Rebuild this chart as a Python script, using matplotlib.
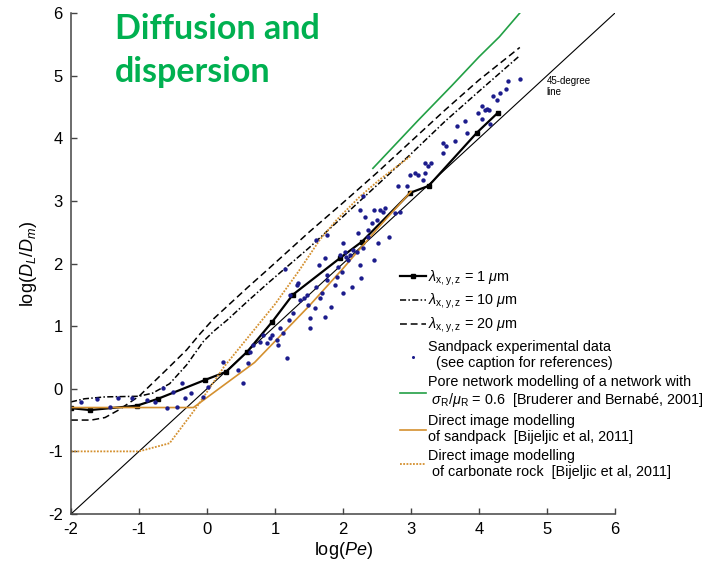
import matplotlib
matplotlib.use("Agg")
import matplotlib.pyplot as plt

# simulation curves, log(Pe) vs log(DL/Dm)
lam1_x = [-2.0, -1.72, -1.03, -0.72, -0.03, 0.28, 0.59, 0.96, 1.26, 1.96, 2.28, 2.99, 3.26, 3.97, 4.28]
lam1_y = [-0.31, -0.34, -0.27, -0.16, 0.14, 0.27, 0.59, 1.07, 1.50, 2.09, 2.35, 3.13, 3.24, 4.09, 4.41]

lam10_x = [-2.0, -1.8, -1.5, -1.0, -0.8, -0.55, -0.3, -0.05, 0.1, 0.3, 0.6, 0.9, 1.5, 2.0, 2.5, 3.0, 3.5, 4.0, 4.6]
lam10_y = [-0.21, -0.16, -0.13, -0.12, -0.07, 0.08, 0.38, 0.76, 0.92, 1.10, 1.40, 1.69, 2.25, 2.75, 3.25, 3.75, 4.27, 4.75, 5.32]

lam20_x = [-2.0, -1.7, -1.5, -1.3, -1.0, -0.6, -0.3, -0.1, 0.1, 0.3, 0.6, 0.9, 1.5, 2.0, 2.5, 3.0, 3.5, 4.0, 4.6]
lam20_y = [-0.50, -0.50, -0.46, -0.34, -0.12, 0.30, 0.62, 0.88, 1.12, 1.32, 1.62, 1.91, 2.50, 2.97, 3.45, 3.95, 4.45, 4.93, 5.45]

pnm_x = [2.44, 3.1, 3.6, 4.0, 4.3, 4.6]
pnm_y = [3.52, 4.28, 4.84, 5.30, 5.62, 6.0]

sand_x = [-2.0, -0.2, 0.7, 1.1, 1.5, 2.0, 2.5, 3.0]
sand_y = [-0.30, -0.30, 0.42, 0.87, 1.32, 1.92, 2.55, 3.15]

carb_x = [-2.0, -1.0, -0.55, -0.15, 0.25, 0.55, 1.0, 1.35, 1.66, 1.91, 2.25, 2.54, 3.0]
carb_y = [-1.0, -1.0, -0.87, -0.29, 0.35, 0.75, 1.35, 1.88, 2.38, 2.70, 3.07, 3.34, 3.72]

# sandpack experimental data
exp_x = [-1.85, -1.62, -1.43, -1.31, -1.10, -0.88, -0.76, -0.64, -0.59, -0.50, -0.44, -0.37,
         -0.32, -0.24, -0.06, 0.01, 0.24, 0.46, 0.53, 0.60, 0.68, 0.82, 0.88, 1.03, 1.04, 1.12,
         1.18, 0.63, 0.78, 0.93, 0.95, 1.07, 1.20, 1.22, 1.27, 1.32, 1.34, 1.37, 1.42, 1.47,
         1.49, 1.51, 1.51, 1.59, 1.61, 1.64, 1.66, 1.69, 1.74, 1.74, 1.76, 1.76, 1.83, 1.88,
         1.91, 1.93, 1.96, 1.98, 2.00, 2.00, 2.03, 2.05, 2.08, 2.10, 2.13, 2.15, 2.20, 2.25,
         2.27, 2.30, 2.37, 2.45, 2.52, 1.61, 1.76, 2.22, 1.15, 2.30, 2.25, 2.32, 2.37, 2.42,
         2.45, 2.50, 2.54, 2.59, 2.62, 2.76, 2.84, 2.81, 2.94, 2.99, 3.06, 3.11, 3.21, 3.18,
         3.21, 3.30, 3.25, 3.47, 3.52, 3.47, 3.65, 3.67, 3.79, 3.82, 2.67, 3.98, 4.04, 4.09,
         4.12, 4.15, 4.04, 4.16, 4.20, 4.26, 4.31, 4.40, 4.43, 4.60]
exp_y = [-0.21, -0.16, -0.29, -0.15, -0.15, -0.18, -0.21, 0.01, -0.31, -0.05, -0.29, 0.09,
         -0.15, -0.07, -0.13, 0.03, 0.43, 0.30, 0.09, 0.41, 0.70, 0.86, 0.73, 0.78, 0.70, 0.89,
         0.49, 0.59, 0.75, 0.81, 0.86, 0.97, 1.10, 1.50, 1.21, 1.66, 1.69, 1.42, 1.45, 1.50,
         1.34, 1.13, 0.97, 1.29, 1.63, 1.98, 1.45, 1.53, 1.15, 2.08, 1.82, 1.74, 1.31, 1.66,
         1.79, 1.95, 2.14, 1.87, 2.32, 1.53, 2.19, 2.11, 2.06, 2.14, 1.63, 2.22, 2.19, 1.98,
         1.77, 2.24, 2.43, 2.06, 2.32, 2.38, 2.46, 2.48, 1.92, 3.07, 2.86, 2.75, 2.54, 2.64,
         2.86, 2.70, 2.86, 2.83, 2.88, 2.80, 2.83, 3.23, 3.23, 3.42, 3.44, 3.42, 3.44, 3.34,
         3.60, 3.60, 3.55, 3.92, 3.87, 3.76, 3.95, 4.19, 4.27, 4.08, 2.43, 4.41, 4.52, 4.45,
         4.46, 4.45, 4.30, 4.22, 4.68, 4.61, 4.72, 4.78, 4.92, 4.95]

x_ticks = [-2, -1, 0, 1, 2, 3, 4, 5, 6]
y_ticks = [-2, -1, 0, 1, 2, 3, 4, 5, 6]

orange = "#d4902f"
green = "#22a045"
navy = "#1c1c8c"

plt.rcParams["font.family"] = ["Liberation Sans", "DejaVu Sans"]
plt.rcParams["axes.unicode_minus"] = False
plt.rcParams["mathtext.fontset"] = "custom"
plt.rcParams["mathtext.rm"] = "Liberation Sans"
plt.rcParams["mathtext.it"] = "Liberation Sans:italic"

fig = plt.figure(figsize=(7.08, 5.69), dpi=100)
ax = fig.add_axes([71 / 708, 55 / 569, 544 / 708, 501 / 569])

ax.plot([-2, 6], [-2, 6], color="black", lw=0.8)
ax.plot(lam1_x, lam1_y, "-s", color="black", lw=1.6, ms=3.5,
        label=r"$\lambda_{\mathrm{x,y,z}}$ = 1 $\mu$m")
ax.plot(lam10_x, lam10_y, color="black", lw=1.1, dashes=[4, 1.5, 1, 1.5],
        label=r"$\lambda_{\mathrm{x,y,z}}$ = 10 $\mu$m")
ax.plot(lam20_x, lam20_y, color="black", lw=1.1, dashes=[4.5, 2.5],
        label=r"$\lambda_{\mathrm{x,y,z}}$ = 20 $\mu$m")
ax.scatter(exp_x, exp_y, s=10, color=navy, marker="o", linewidths=0, zorder=3,
           label="Sandpack experimental data\n  (see caption for references)")
ax.plot(pnm_x, pnm_y, color=green, lw=1.2,
        label="Pore network modelling of a network with\n"
              r" $\sigma_{\mathrm{R}}/\mu_{\mathrm{R}}$ = 0.6  [Bruderer and Bernabé, 2001]")
ax.plot(sand_x, sand_y, color=orange, lw=1.2,
        label="Direct image modelling\nof sandpack  [Bijeljic et al, 2011]")
ax.plot(carb_x, carb_y, color=orange, lw=1.3, ls=(0, (1, 0.8)),
        label="Direct image modelling\n of carbonate rock  [Bijeljic et al, 2011]")

ax.text(4.99, 5.0, "45-degree\nline", fontsize=7, va="top", ha="left", linespacing=1.2)

ax.set_xlim(-2, 6)
ax.set_ylim(-2, 6)
ax.set_xticks(x_ticks)
ax.set_yticks(y_ticks)
ax.spines["top"].set_visible(False)
ax.spines["right"].set_visible(False)
for s in ("left", "bottom"):
    ax.spines[s].set_color("#444444")
    ax.spines[s].set_linewidth(1.1)
ax.tick_params(direction="in", length=4, width=1, color="#444444", labelsize=12, pad=6)

ax.set_xlabel("log($\\mathit{Pe}$)", fontsize=13, labelpad=2)
ax.set_ylabel(r"log($D_L$/$D_m$)", fontsize=13, labelpad=6)

leg = ax.legend(loc="upper left", bbox_to_anchor=(0.592, 0.505), frameon=False,
                fontsize=10.4, handlelength=1.8, handletextpad=0.15,
                labelspacing=0.32, borderpad=0, markerscale=0.7)

fig.text(115 / 708, 1 - 39 / 569, "Diffusion and", color="#00b050", fontsize=24.5,
         fontweight="bold", family="Lato", va="baseline")
fig.text(115 / 708, 1 - 82 / 569, "dispersion", color="#00b050", fontsize=24.5,
         fontweight="bold", family="Lato", va="baseline")

fig.savefig("out.png", dpi=100)
